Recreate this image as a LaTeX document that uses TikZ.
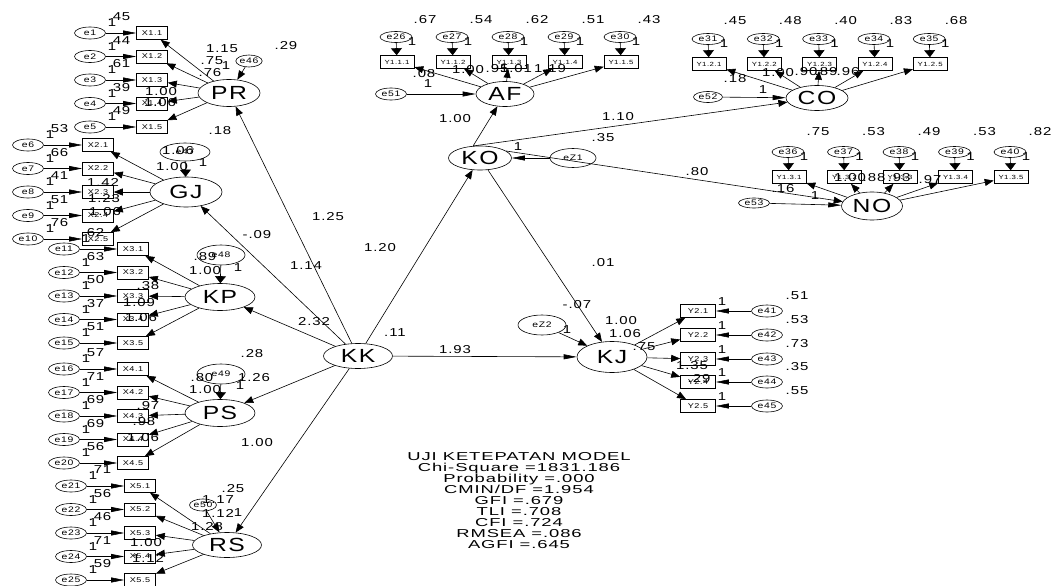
\documentclass[tikz,border=0pt]{standalone}
\usepackage{fontspec}
\newfontfamily\amos[FakeStretch=1.3,LetterSpace=8]{Liberation Sans}
\newfontfamily\amosfit[FakeStretch=1.6,LetterSpace=8]{Liberation Sans}
\usetikzlibrary{arrows.meta,shapes.geometric}
\tikzset{
    latent/.style={
        ellipse, draw, line width=0.6pt,
        minimum width=64pt, minimum height=26pt, inner sep=0pt,
        font=\amos\fontsize{19}{20}\selectfont
    },
    errnode/.style={
        ellipse, draw, line width=0.6pt,
        minimum width=31pt, minimum height=12pt, inner sep=0pt,
        font=\amos\fontsize{8}{8}\selectfont
    },
    indbox/.style={
        rectangle, draw, line width=0.6pt,
        minimum width=31pt, minimum height=13pt, inner sep=0pt,
        font=\amos\fontsize{7}{7}\selectfont
    },
    lbl/.style={inner sep=0pt, font=\amos\fontsize{11.5}{12}\selectfont},
    regpath/.style={draw, line width=0.6pt, -{Triangle[length=9pt,width=7pt]}},
    hpath/.style={draw, line width=0.6pt, -{Triangle[length=13pt,width=5pt]}},
    vpath/.style={draw, line width=0.6pt, -{Triangle[length=7pt,width=11pt]}}
}

\begin{document}
\begin{tikzpicture}[x=1pt,y=-1pt]
\useasboundingbox (0,0) rectangle (1058,586);

% latent variables
\node[latent, minimum width=62pt, minimum height=27pt] (PR) at (229,93) {PR};
\node[latent, minimum width=72pt, minimum height=30pt] (GJ) at (186,192) {GJ};
\node[latent, minimum width=70pt, minimum height=27pt] (KP) at (220,297) {KP};
\node[latent, minimum width=70pt, minimum height=27pt] (PS) at (220,413) {PS};
\node[latent, minimum width=69pt, minimum height=25pt] (RS) at (227,545) {RS};
\node[latent, minimum width=69pt, minimum height=25pt] (KK) at (358,356) {KK};
\node[latent, minimum width=63pt, minimum height=24pt] (KO) at (480,158) {KO};
\node[latent, minimum width=58pt, minimum height=25pt] (AF) at (505,94) {AF};
\node[latent, minimum width=62pt, minimum height=25pt] (CO) at (817,98) {CO};
\node[latent, minimum width=61pt, minimum height=28pt] (NO) at (872,206) {NO};
\node[latent, minimum width=70pt, minimum height=31pt] (KJ) at (612,357) {KJ};

% left indicators with their errors
\foreach \g/\lv/\bx/\ex/\ya in {1/PR/152/90/33, 2/GJ/98/28/145, 3/KP/133/64/249, 4/PS/133/64/369, 5/RS/140/71/486}{
    \foreach \i in {1,...,5}{
        \pgfmathtruncatemacro{\n}{(\g-1)*5+\i}
        \pgfmathsetmacro{\yy}{\ya+(\i-1)*23.5}
        \node[indbox] (\lv\i) at (\bx,\yy) {X\g.\i};
        \node[errnode] (e\n) at (\ex,\yy) {e\n};
        \draw[hpath] (e\n) -- (\lv\i);
        \draw[regpath] (\lv) -- (\lv\i);
        \node[lbl] at ([shift={(22,-10)}]e\n) {1};
    }
}
\foreach \n/\v in {1/.45,2/.44,3/.61,4/.39,5/.49,6/.53,7/.66,8/.41,9/.51,10/.76,
    11/.62,12/.63,13/.50,14/.37,15/.51,16/.57,17/.71,18/.69,19/.69,20/.56,
    21/.71,22/.56,23/.46,24/.71,25/.59}
    \node[lbl] at ([shift={(29,-16)}]e\n) {\v};

% upper indicators with their errors
\foreach \k/\lv/\xa/\dx/\by/\eo in {1/AF/397/56/62/25, 2/CO/709/55.3/64/30, 3/NO/789/55.5/177/35}{
    \foreach \i in {1,...,5}{
        \pgfmathtruncatemacro{\n}{\eo+\i}
        \pgfmathsetmacro{\xx}{\xa+(\i-1)*\dx}
        \node[indbox, minimum width=34pt, font=\amos\fontsize{6}{6}\selectfont] (\lv\i) at (\xx,\by) {Y1.\k.\i};
        \node[errnode, minimum width=32pt, minimum height=11pt] (e\n) at (\xx-1,\by-25) {e\n};
        \draw[vpath] (e\n) -- (\lv\i);
        \draw[regpath] (\lv) -- (\lv\i);
        \node[lbl] at ([shift={(16,5)}]e\n) {1};
    }
}
\foreach \n/\v/\dx/\yy in {26/.67/29/20, 27/.54/29/20, 28/.62/29/20, 29/.51/29/20, 30/.43/29/20,
    31/.45/27/21, 32/.48/27/21, 33/.40/27/21, 34/.83/27/21, 35/.68/27/21,
    36/.75/30/132, 37/.53/30/132, 38/.49/30/132, 39/.53/30/132, 40/.82/30/132}
    \node[lbl] at ([xshift=\dx pt]e\n.center |- 0,\yy) {\v};

% right indicators of KJ
\foreach \i/\yy/\v in {1/311/.51, 2/335/.53, 3/359/.73, 4/382/.35, 5/406/.55}{
    \pgfmathtruncatemacro{\n}{40+\i}
    \node[indbox, minimum width=35pt] (KJ\i) at (698,\yy) {Y2.\i};
    \node[errnode] (e\n) at (767,\yy) {e\n};
    \draw[hpath] (e\n) -- (KJ\i);
    \draw[regpath] (KJ) -- (KJ\i);
    \node[lbl] at (722,\yy-9) {1};
    \node[lbl] at (797,\yy-15) {\v};
}

% disturbances
\node[errnode, minimum width=22pt] (e46) at (249,61) {e46};
\node[errnode, minimum width=50pt, minimum height=18pt] (e47) at (185,152) {e47};
\node[errnode, minimum width=48pt, minimum height=20pt] (e48) at (221,255) {e48};
\node[errnode, minimum width=48pt, minimum height=20pt] (e49) at (221,374) {e49};
\node[errnode, minimum width=27pt] (e50) at (203,505) {e50};
\node[errnode] (e51) at (391,94) {e51};
\node[errnode, minimum width=29pt, minimum height=11pt] (e52) at (708,97) {e52};
\node[errnode, minimum width=31pt, minimum height=10pt] (e53) at (754,203) {e53};
\node[errnode, minimum width=46pt, minimum height=19pt] (eZ1) at (573,158) {eZ1};
\node[errnode, minimum width=48pt, minimum height=20pt] (eZ2) at (542,325) {eZ2};

\draw[regpath] (e46) -- (PR);
\draw[vpath] (e47) -- (GJ);
\draw[vpath] (e48) -- (KP);
\draw[vpath] (e49) -- (PS);
\draw[regpath] (e50) -- (RS);
\draw[hpath] (e51) -- (AF);
\draw[hpath] (e52) -- (CO);
\draw[hpath] (e53) -- (NO);
\draw[hpath] (eZ1) -- (KO);
\draw[regpath] (eZ2) -- (KJ);

% structural paths
\draw[regpath] (KK) -- (PR);
\draw[regpath] (KK) -- (GJ);
\draw[regpath] (KK) -- (KP);
\draw[regpath] (KK) -- (PS);
\draw[regpath] (KK) -- (RS);
\draw[regpath] (KK) -- (KO);
\draw[hpath] (KK) -- (KJ);
\draw[regpath] (KO.120) -- (AF);
\draw[regpath] (KO.120) -- (CO);
\draw[regpath] (KO.15) -- (NO);
\draw[regpath] (KO) -- (KJ);

% estimates
\foreach \pos/\v in {{222,49}/1.15, {212,61}/.75, {226,66}/1, {210,73}/.76, {161,92}/1.00,
    {160,103}/1.06, {286,46}/.29, {220,131}/.18, {178,151}/1.06, {172,167}/1.00,
    {203,163}/1, {103,182}/1.42, {104,199}/1.23, {105,212}/1.06,
    {205,257}/.89, {205,271}/1.00, {238,268}/1, {148,286}/.38, {139,303}/1.09,
    {141,318}/1.06, {252,354}/.28, {202,378}/.80, {205,390}/1.00, {240,386}/1,
    {254,378}/1.26, {148,406}/.97, {144,422}/.98, {143,438}/1.06,
    {233,489}/.25, {218,500}/1.17, {218,513}/1.12, {238,513}/1, {207,527}/1.28,
    {146,543}/1.00, {148,558}/1.12,
    {328,217}/1.25, {257,235}/-.09, {306,266}/1.14, {314,322}/2.32, {380,248}/1.20,
    {395,333}/.11, {455,350}/1.93, {257,443}/1.00, {455,119}/1.00, {618,117}/1.10,
    {603,138}/.35, {697,172}/.80, {518,147}/1, {603,263}/.01, {577,305}/-.07,
    {567,330}/1, {621,321}/1.00, {625,334}/1.06, {644,347}/.75, {692,366}/1.35,
    {699,379}/.29,
    {424,74}/.08, {428,84}/1, {468,70}/1.00, {497,69}/.95, {516,69}/1.01, {550,69}/1.19,
    {735,79}/.18, {763,90}/1, {778,73}/1.00, {806,72}/.90, {826,72}/.89, {848,72}/.96,
    {783,189}/.16, {815,196}/1, {850,178}/1.00, {874,178}/.88, {899,178}/.93, {930,180}/.97}
    \node[lbl] at (\pos) {\v};

% model fit
\node[align=center, inner sep=0pt, font=\amosfit\fontsize{11.5}{11}\selectfont] (fit) at (519,501)
    {UJI KETEPATAN MODEL\\ Chi-Square =1831.186\\ Probability =.000\\ CMIN/DF =1.954\\
     GFI =.679\\ TLI =.708\\ CFI =.724\\ RMSEA =.086\\ AGFI =.645};
\end{tikzpicture}
\end{document}
